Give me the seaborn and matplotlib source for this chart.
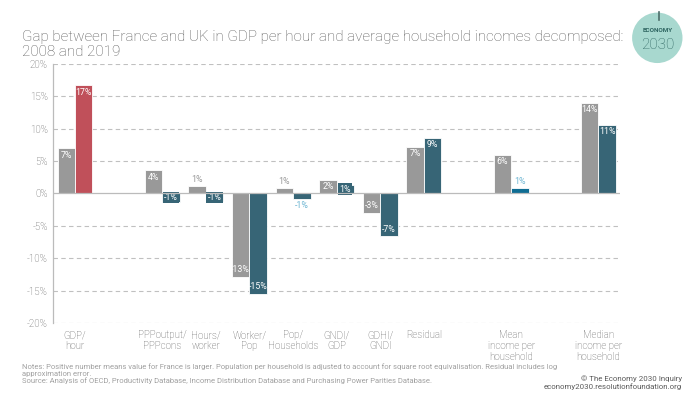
import matplotlib
matplotlib.use('Agg')
import matplotlib.pyplot as plt
from matplotlib.patches import Ellipse
import seaborn as sns
import pandas as pd
import numpy as np

# 数据
categories = ['GDP/\nhour', 'PPPoutput/\nPPPcons', 'Hours/\nworker', 'Worker/\nPop',
              'Pop/\nHouseholds', 'GNDI/\nGDP', 'GDHI/\nGNDI', 'Residual',
              'Mean\nincome per\nhousehold', 'Median\nincome per\nhousehold']
gap_2008 = [7.0, 3.6, 1.2, -12.9, 0.8, 2.1, -3.0, 7.2, 6.0, 14.0]
gap_2019 = [16.7, -1.3, -1.2, -15.5, -0.9, 1.3, -6.6, 8.6, 0.9, 10.6]
labels_2008 = ['7%', '4%', '1%', '-13%', '1%', '2%', '-3%', '7%', '6%', '14%']
labels_2019 = ['17%', '-1%', '-1%', '-15%', '-1%', '1%', '-7%', '9%', '1%', '11%']

# 空位（类别之间的间隔）
order = [categories[0], ' ', categories[1], categories[2], categories[3], categories[4],
         categories[5], categories[6], categories[7], '  ', categories[8], '   ', categories[9]]

GRAY = '#999999'
BLUE = '#2c6a80'
RED = '#c0505a'
BRIGHT_BLUE = '#0f6d93'
LIGHT_BLUE = '#6fb6d3'
TEXT = '#5a5a5a'

df = pd.DataFrame({
    'cat': categories * 2,
    'series': ['2008'] * len(categories) + ['2019'] * len(categories),
    'value': gap_2008 + gap_2019,
})

plt.rcParams['font.family'] = ['Roboto', 'DejaVu Sans']
plt.rcParams['font.weight'] = 'light'
fig = plt.figure(figsize=(7, 3.94), dpi=100)
ax = fig.add_axes([0.076, 0.18, 0.81, 0.658])

sns.barplot(data=df, x='cat', y='value', hue='series', order=order,
            palette=[GRAY, BLUE], width=0.8, ax=ax, legend=False,
            edgecolor='white', linewidth=0.6, err_kws={'linewidth': 0})

# 每根柱子按位置找到对应类别
label_lookup = {}
for i, c in enumerate(categories):
    label_lookup[(c, '2008')] = (gap_2008[i], labels_2008[i])
    label_lookup[(c, '2019')] = (gap_2019[i], labels_2019[i])

for p in ax.patches:
    xc = p.get_x() + p.get_width() / 2
    slot = int(round(xc))
    if slot < 0 or slot >= len(order):
        continue
    cat = order[slot]
    series = '2008' if xc < slot else '2019'
    if (cat, series) not in label_lookup:
        continue
    val, lab = label_lookup[(cat, series)]
    if series == '2019':
        if cat == categories[0]:
            p.set_facecolor(RED)
        elif cat == categories[8]:
            p.set_facecolor(BRIGHT_BLUE)
    fc = p.get_facecolor()
    if abs(val) >= 1.5:
        y = val - 0.4 if val > 0 else val + 0.4
        ax.text(xc, y, lab, ha='center', va='top' if val > 0 else 'bottom',
                color='white', fontsize=6.3, fontweight='normal')
    elif series == '2019' and cat in (categories[1], categories[2], categories[5]):
        ax.text(xc, val / 2, lab, ha='center', va='center', color='white', fontsize=6.3,
                fontweight='normal', bbox=dict(boxstyle='square,pad=0.15', fc=fc, ec='none'))
    else:
        col = GRAY if series == '2008' else LIGHT_BLUE
        y = val + 0.3 if val > 0 else val - 0.3
        ax.text(xc, y, lab, ha='center', va='bottom' if val > 0 else 'top',
                color=col, fontsize=6.3, fontweight='normal')

ax.set_xlim(-0.5, 12.5)
ax.set_ylim(-20, 20)
ax.set_yticks(np.arange(-20, 21, 5))
ax.set_yticklabels([f'{v}%' for v in range(-20, 21, 5)])
ax.set_xticks(range(len(order)))
ax.set_xticklabels([c if c.strip() else '' for c in order], linespacing=1.15)
ax.tick_params(axis='both', length=0, labelsize=7, colors=TEXT, pad=4)
ax.tick_params(axis='x', pad=5)
ax.set_xlabel('')
ax.set_ylabel('')

for v in range(-20, 21, 5):
    if v != 0:
        ax.axhline(v, color='#c0c0c0', linestyle=(0, (4, 3)), linewidth=0.8, zorder=0)
ax.axhline(0, color='#bbbbbb', linewidth=0.9, zorder=3)

for s in ['top', 'right', 'bottom']:
    ax.spines[s].set_visible(False)
ax.spines['left'].set_color('#bbbbbb')
ax.spines['left'].set_linewidth(0.9)

fig.text(0.031, 0.85, 'Gap between France and UK in GDP per hour and average household incomes decomposed:\n2008 and 2019',
         fontsize=11, color=TEXT, ha='left', va='bottom', linespacing=1.1)

fig.text(0.031, 0.025,
         'Notes: Positive number means value for France is larger. Population per household is adjusted to account for square root equivalisation. Residual includes log\n'
         'approximation error.\n'
         'Source: Analysis of OECD, Productivity Database, Income Distribution Database and Purchasing Power Parities Database.',
         fontsize=5.5, color='#a0a0a0', ha='left', va='bottom', linespacing=1.15,
         fontweight='normal')
fig.text(0.974, 0.01, '© The Economy 2030 Inquiry\neconomy2030.resolutionfoundation.org',
         fontsize=5.7, color=TEXT, ha='right', va='bottom', linespacing=1.3, fontweight='normal')

# 标志
fig.patches.append(Ellipse((0.939, 0.904), 0.072, 0.128, transform=fig.transFigure,
                           facecolor='#a8d8cf', edgecolor='none'))
fig.lines.append(plt.Line2D([0.941, 0.941], [0.949, 0.969], transform=fig.transFigure,
                            color='#4d6e6a', linewidth=1.2))
fig.text(0.939, 0.922, 'ECONOMY', fontsize=4.6, color='#2f6662', ha='center', va='center',
         fontweight='bold')
fig.text(0.939, 0.885, '2030', fontsize=11, color='#2f6662', ha='center', va='center')

fig.savefig('out.png', dpi=100)
